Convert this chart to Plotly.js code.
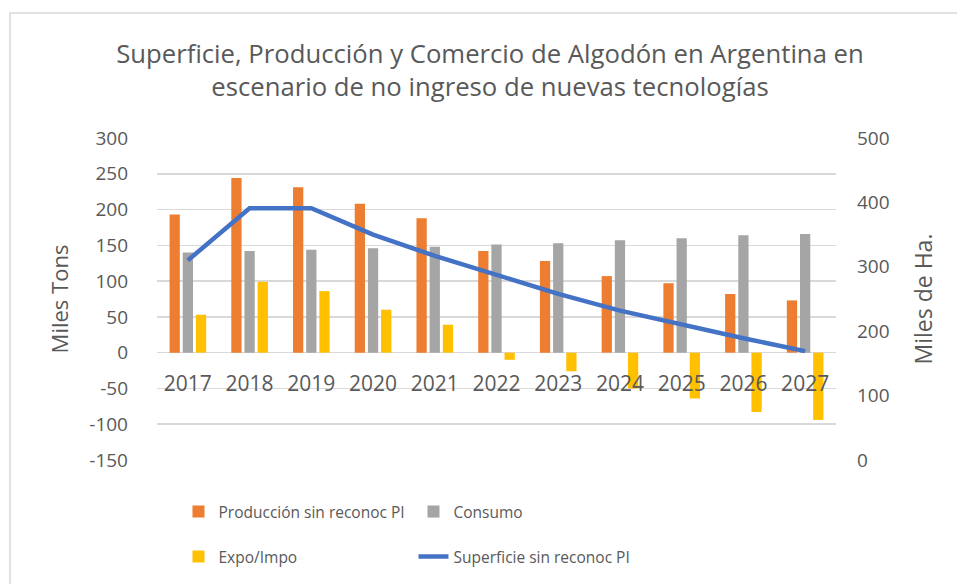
<!DOCTYPE html>
<html>
<head>
<meta charset="utf-8">
<script src="https://cdn.plot.ly/plotly-3.0.1.min.js"></script>
<style>body{margin:0;padding:0;background:#fff;} #chart{width:957px;height:584px;}</style>
</head>
<body>
<div id="chart"></div>
<script>
const years = ['2017','2018','2019','2020','2021','2022','2023','2024','2025','2026','2027'];
const produccion = [193, 244, 231, 208, 188, 142, 128, 107, 97, 82, 73];
const consumo = [140, 142, 144, 146, 148, 151, 153, 157, 160, 164, 166];
const expoImpo = [53, 99, 86, 60, 39, -10, -26, -50, -64, -83, -94];
const superficie = [310, 391, 391, 350, 317, 287, 258, 232, 210, 189, 169];
const leftTickVals = [-150, -100, -50, 0, 50, 100, 150, 200, 250, 300];
const leftTickText = ['-150', '-100', '-50', '0', '50', '100', '150', '200', '250', '300'];

const FONT = '"Open Sans", Lato, sans-serif';
const TXT = '#595959';
const GRID = '#d9d9d9';

const traces = [
  {type:'bar', name:'Producción sin reconoc PI', x:years, y:produccion, marker:{color:'#ed7d31'}, legend:'legend', hoverinfo:'x+y'},
  {type:'bar', name:'Consumo', x:years, y:consumo, marker:{color:'#a5a5a5'}, legend:'legend', hoverinfo:'x+y'},
  {type:'bar', name:'Expo/Impo', x:years, y:expoImpo, marker:{color:'#ffc000'}, legend:'legend2', hoverinfo:'x+y'},
  {type:'scatter', mode:'lines', name:'Superficie sin reconoc PI', x:years, y:superficie, yaxis:'y2', line:{color:'#4472c4', width:4.5}, legend:'legend2'}
];

const legendBase = {orientation:'h', xref:'container', yref:'container', xanchor:'left', yanchor:'middle', font:{family:FONT, size:15.5, color:TXT}, entrywidth:190, entrywidthmode:'pixels', bgcolor:'rgba(0,0,0,0)'};

const layout = {
  width:957, height:584,
  margin:{l:157, r:121, t:138, b:124},
  paper_bgcolor:'#ffffff', plot_bgcolor:'#ffffff',
  font:{family:FONT, color:TXT},
  title:{text:'Superficie, Producción y Comercio de Algodón en Argentina en<br>escenario de no ingreso de nuevas tecnologías', font:{family:FONT, size:25.7, color:TXT}, x:0.512, xanchor:'center', y:1-63/584, yanchor:'middle', yref:'container'},
  barmode:'group', bargap:0.36, bargroupgap:0.22,
  xaxis:{type:'category', anchor:'free', position:0.3385, showline:false, showgrid:false, ticks:'', ticklabelstandoff:18, tickfont:{family:FONT, size:21, color:TXT}},
  yaxis:{range:[-150,300], tickmode:'array', tickvals:leftTickVals, ticktext:leftTickText, showgrid:true, gridcolor:GRID, gridwidth:1.5, zeroline:true, zerolinecolor:GRID, zerolinewidth:1.5, showline:false, ticks:'', ticklabelstandoff:28, tickfont:{family:FONT, size:19, color:TXT}, title:{text:'Miles Tons', font:{family:FONT, size:22, color:TXT}, standoff:14}},
  yaxis2:{range:[0,500], dtick:100, overlaying:'y', side:'right', showgrid:false, zeroline:false, showline:false, ticks:'', ticklabelstandoff:20, tickfont:{family:FONT, size:19, color:TXT}, title:{text:'Miles de Ha.', font:{family:FONT, size:23, color:TXT}, standoff:27}},
  legend:Object.assign({}, legendBase, {x:0.1865, y:1-512/584}),
  legend2:Object.assign({}, legendBase, {x:0.1865, y:1-557/584}),
  showlegend:true,
  shapes:[{type:'rect', xref:'paper', yref:'paper', x0:(10-157)/679, x1:(1000-157)/679, y0:(460-700)/322, y1:(460-13)/322, line:{color:GRID, width:1.5}, fillcolor:'rgba(0,0,0,0)', layer:'below'}]
};

Plotly.newPlot('chart', traces, layout, {displayModeBar:false, staticPlot:true});
</script>
</body>
</html>
